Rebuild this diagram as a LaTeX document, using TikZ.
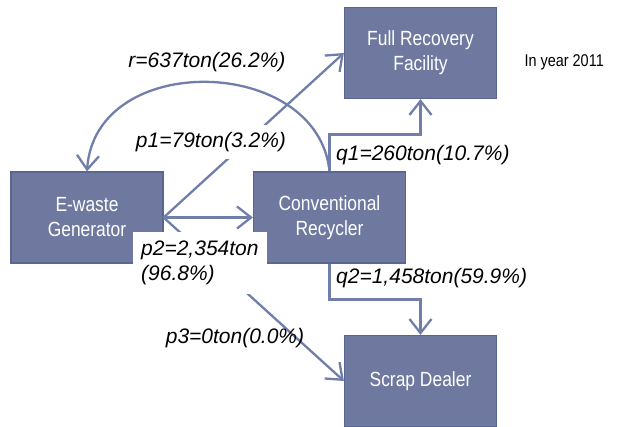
\documentclass[tikz,border=0pt]{standalone}
\usepackage{fontspec}
\setmainfont{Liberation Sans}
\newfontfamily\narrowsans[FakeStretch=0.85]{Liberation Sans}
\usetikzlibrary{arrows.meta}
\definecolor{boxfill}{RGB}{111,121,160}
\definecolor{boxline}{RGB}{90,101,145}
\definecolor{flowline}{RGB}{114,126,170}

\begin{document}
\begin{tikzpicture}[x=1pt, y=-1pt,
  box/.style={draw=boxline, line width=1.2pt, fill=boxfill, text=white,
    minimum width=152pt, minimum height=91pt, align=center,
    font=\narrowsans\fontsize{20.5}{25}\selectfont},
  flow/.style={draw=flowline, line width=2.3pt,
    -{Straight Barb[length=14pt, width=22pt]}},
  lbl/.style={font=\itshape\fontsize{21}{25}\selectfont, inner sep=2pt}]
\useasboundingbox (0,0) rectangle (619,427);

\node[box] (gen) at (87,217.5) {E-waste\\Generator};
\node[box] (rec) at (329.5,217.5) {Conventional\\Recycler};
\node[box] (frf) at (420.5,53) {Full Recovery\\Facility};
\node[box] (scrap) at (420.5,381) {Scrap Dealer};

\draw[flow] (gen.east) -- (rec.west);
\draw[flow] (gen.east) -- (frf.west);
\draw[flow] (gen.east) -- (scrap.west);
\draw[flow] (rec.north) -- ++(0,-37) -| (frf.south);
\draw[flow] (rec.south) -- ++(0,36) -| (scrap.north);
\draw[flow] (rec.north) .. controls (318,55) and (95,50) .. (gen.north);

\node[lbl] (rlbl) at (207,62) {r=637ton(26.2\%)};
\node[lbl, fill=white, inner ysep=7pt] (p1lbl) at (211,142) {p1=79ton(3.2\%)};
\node[lbl, anchor=west] (q1lbl) at (334,155) {q1=260ton(10.7\%)};
\node[lbl, anchor=west] (q2lbl) at (334,278) {q2=1,458ton(59.9\%)};
\node[lbl] (p3lbl) at (235,338) {p3=0ton(0.0\%)};
\node[lbl, fill=white, align=left, anchor=north west, inner xsep=8pt, inner ysep=9pt]
  (p2lbl) at (133,232) {p2=2,354ton\\(96.8\%)};
\node[font=\narrowsans\fontsize{17}{20}\selectfont, anchor=west] (year) at (521,62) {In year 2011};
\end{tikzpicture}
\end{document}
